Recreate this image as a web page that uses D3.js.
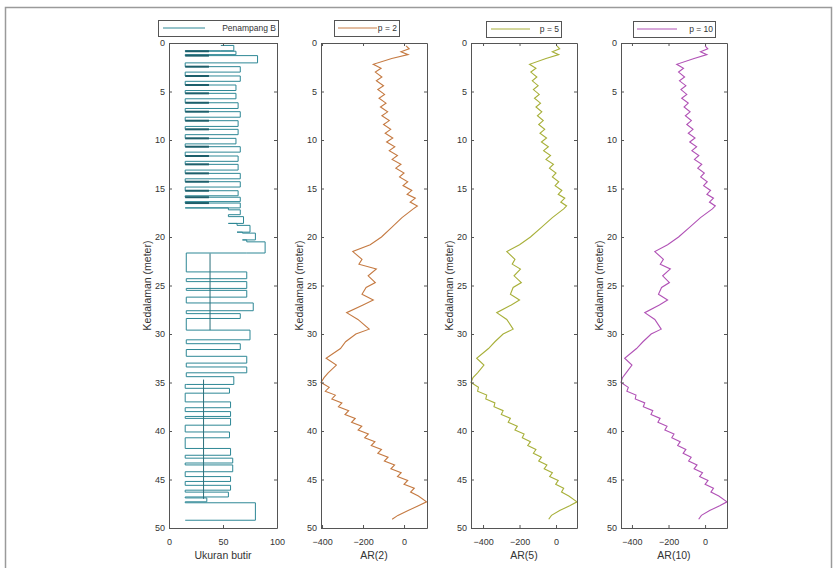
<!DOCTYPE html>
<html>
<head>
<meta charset="utf-8">
<script src="https://cdn.jsdelivr.net/npm/d3@7"></script>
<style>
	body { margin: 0; background: #fff; font-family: "Liberation Sans", Arial, sans-serif; }
	.tick text { font-size: 9px; fill: #333; }
	.tick line, .domain { stroke: #555; }
	.lbl { font-size: 10.5px; fill: #333; }
	.leg { font-size: 8.5px; fill: #333; }
</style>
</head>
<body>
<svg width="837" height="568"></svg>
<script>
// depth axis
var depthTicks = [0, 5, 10, 15, 20, 25, 30, 35, 40, 45, 50];
var sizeTicks = [0, 50, 100];
var arTicks = [-400, -200, 0];

// grain-size log (Penampang B): one excursion per layer
var layerTop = [0.25, 0.85, 1.3, 2.44, 3.4, 4.33, 5.19, 6.16, 7.08, 8.01, 8.9, 9.83, 10.69, 11.65, 12.51, 13.44, 14.3, 15.23, 15.9, 16.5,
	17.2, 17.9, 18.8, 19.6, 20.5,
	23.6, 24.6, 25.5, 26.8, 27.9, 29.6, 31.0, 32.3, 33.4, 34.4,
	35.6, 37.0, 38.0, 38.7, 40.1, 41.8, 42.8, 43.5, 44.7, 45.6, 46.3, 46.9, 47.4];
var layerBottom = [0.8, 1.2, 2.05, 3.0, 3.95, 4.9, 5.75, 6.75, 7.65, 8.6, 9.45, 10.4, 11.25, 12.2, 13.1, 14.0, 14.85, 15.75, 16.35, 17.0,
	17.7, 18.6, 19.5, 20.3, 21.65,
	24.3, 25.3, 26.2, 27.6, 28.4, 30.6, 31.6, 33.0, 34.0, 35.2,
	36.1, 37.6, 38.5, 39.4, 40.7, 42.5, 43.3, 44.2, 45.2, 46.1, 46.8, 47.3, 49.2];
var layerSize = [60, 62, 82, 66, 66, 62, 62, 64, 66, 64, 64, 62, 66, 64, 64, 66, 66, 64, 66, 66,
	66, 69, 75, 80, 89,
	72, 72, 72, 78, 66, 75, 66, 72, 72, 60,
	56, 57, 57, 57, 56, 57, 59, 59, 57, 57, 55, 35, 80];
var layerBase = [48, 15, 15, 15, 15, 15, 15, 15, 15, 15, 15, 15, 15, 15, 15, 15, 15, 15, 15, 15,
	55, 55, 63, 68, 72,
	16, 16, 16, 16, 16, 16, 16, 16, 16, 16,
	15, 15, 15, 15, 15, 15, 15, 15, 15, 15, 15, 15, 15];
var layerMid = [null, 37, 37, 37, 37, 37, 37, 37, 37, 37, 37, 37, 37, 37, 37, 37, 37, 37, 37, 37,
	null, null, null, null, null,
	null, null, null, null, null, null, null, null, null, null,
	null, null, null, null, null, null, null, null, null, null, null, null, null];
var midDepth = [21.7, 29.6, null, 34.7, 47.0];
var midSize = [38, 38, null, 32, 32];

// AR models
var arDepth = [0.3, 0.6, 0.9, 1.2, 1.6,
	2.2, 2.6, 3.0, 3.5, 3.9, 4.4, 4.8, 5.3, 5.7, 6.2,
	6.6, 7.1, 7.5, 8.0, 8.4, 8.9, 9.3, 9.8, 10.2, 10.7,
	11.1, 11.6, 12.0, 12.5, 12.9, 13.4, 13.8, 14.3, 14.7, 15.2,
	15.6, 16.0, 16.4, 16.8, 17.1,
	18.0, 19.0, 20.0, 20.8,
	21.5, 22.3, 22.8, 23.3, 24.0, 24.7, 25.2, 25.9, 26.5, 27.0,
	27.8, 28.5, 29.5, 30.0, 30.8, 31.5, 32.5, 33.2, 34.0, 34.5,
	35.0,
	35.5, 35.9, 36.3, 36.7, 37.1, 37.5, 37.9, 38.3, 38.7, 39.1,
	39.5, 39.9, 40.3, 40.7, 41.1, 41.5, 41.9, 42.3, 42.7, 43.1,
	43.5, 43.9, 44.3, 44.7, 45.1, 45.5, 45.9, 46.3, 46.7,
	47.3, 47.7, 48.2, 48.7, 49.1];
var ar2 = [10, 25, -15, 20, -60,
	-150, -112, -140, -108, -135, -100, -128, -95, -122, -88,
	-115, -80, -108, -72, -100, -65, -92, -55, -85, -45,
	-72, -32, -58, -15, -40, 0, -22, 18, -5, 38,
	15, 55, 30, 65, 45,
	-10, -60, -110, -165,
	-250, -205, -220, -135, -175, -140, -185, -205, -150, -200,
	-280, -225, -170, -235, -285, -310, -380, -330, -370, -390,
	-405,
	-365, -384, -335, -352, -303, -320, -270, -288, -238, -256,
	-206, -224, -174, -192, -142, -160, -110, -128, -78, -96,
	-46, -64, -14, -32, 18, 0, 50, 32, 70,
	110, 70, 20, -30, -58];
var ar5 = [5, 20, -20, 15, -55,
	-145, -110, -138, -105, -130, -98, -124, -92, -118, -85,
	-110, -78, -102, -70, -95, -62, -88, -52, -80, -42,
	-68, -30, -55, -14, -36, 0, -20, 15, -5, 32,
	12, 48, 26, 58, 42,
	-20, -80, -140, -200,
	-270, -225, -240, -195, -230, -190, -235, -250, -200, -245,
	-325, -270, -235, -290, -335, -370, -435, -395, -430, -455,
	-466,
	-425, -430, -380, -385, -335, -340, -290, -300, -250, -262,
	-212, -225, -175, -185, -140, -155, -110, -124, -80, -95,
	-50, -65, -20, -35, 12, -2, 42, 30, 70,
	115, 75, 20, -25, -40];
var ar10 = [0, 15, -25, 10, -60,
	-155, -118, -145, -112, -140, -105, -132, -100, -128, -92,
	-115, -82, -108, -75, -100, -66, -92, -55, -84, -46,
	-72, -34, -58, -18, -40, -4, -24, 12, -8, 30,
	10, 46, 24, 56, 40,
	-25, -85, -145, -205,
	-275, -228, -245, -190, -232, -195, -238, -255, -205, -250,
	-330, -275, -240, -295, -340, -375, -440, -400, -432, -452,
	-460,
	-420, -428, -378, -382, -330, -338, -286, -296, -246, -258,
	-208, -220, -170, -182, -136, -150, -105, -120, -76, -90,
	-44, -60, -14, -30, 16, 0, 46, 32, 75,
	120, 80, 25, -20, -35];

var svg = d3.select("svg");

svg.append("rect")
	.attr("x", 5.5).attr("y", 7.5)
	.attr("width", 826).attr("height", 570)
	.attr("fill", "none").attr("stroke", "#9a9a9a").attr("stroke-width", 1.5);

var y = d3.scaleLinear().domain([0, 50]).range([43, 528]);

var panels = [
	{ left: 169, right: 277, domain: [0, 100], ticks: sizeTicks, label: "Ukuran butir", legend: "Penampang B", color: "#2d8795", box: [158, 20, 120, 16], key: [163, 205] },
	{ left: 321, right: 427, domain: [-405, 112], ticks: arTicks, label: "AR(2)", legend: "p = 2", color: "#c57a42", values: ar2, box: [334, 20, 65, 16], key: [338, 377] },
	{ left: 471, right: 577, domain: [-466, 115], ticks: arTicks, label: "AR(5)", legend: "p = 5", color: "#a8b03a", values: ar5, box: [486, 21, 75, 16], key: [491, 530] },
	{ left: 621, right: 727, domain: [-460, 120], ticks: arTicks, label: "AR(10)", legend: "p = 10", color: "#b152b6", values: ar10, box: [633, 21, 82, 16], key: [637, 677] }
];

panels.forEach(function(p, i) {
	var x = d3.scaleLinear().domain(p.domain).range([p.left, p.right]);
	var g = svg.append("g");

	if (i === 0) {
		// build the log path layer by layer
		var pts = [];
		layerTop.forEach(function(t, k) {
			if (k > 0) pts.push([layerBase[k], layerBottom[k - 1]]);
			pts.push([layerBase[k], t]);
			pts.push([layerSize[k], t]);
			pts.push([layerSize[k], layerBottom[k]]);
			pts.push([layerBase[k], layerBottom[k]]);
		});
		var logLine = d3.line()
			.x(function(d) { return x(d[0]); })
			.y(function(d) { return y(d[1]); });
		g.append("path")
			.attr("d", logLine(pts))
			.attr("fill", "none")
			.attr("stroke", p.color)
			.attr("stroke-width", 1);

		g.selectAll(".mark")
			.data(layerTop.map(function(t, k) { return [layerBase[k], layerMid[k], t]; })
				.filter(function(d) { return d[1] !== null; }))
			.enter().append("line")
			.attr("x1", function(d) { return x(d[0]); })
			.attr("x2", function(d) { return x(d[1]); })
			.attr("y1", function(d) { return y(d[2]); })
			.attr("y2", function(d) { return y(d[2]); })
			.attr("stroke", "#1d5f6b")
			.attr("stroke-width", 2);

		var midLine = d3.line()
			.defined(function(d, k) { return midDepth[k] !== null; })
			.x(function(d, k) { return x(midSize[k]); })
			.y(function(d, k) { return y(midDepth[k]); });
		g.append("path")
			.attr("d", midLine(midDepth))
			.attr("fill", "none")
			.attr("stroke", "#2a6f7a")
			.attr("stroke-width", 1);
	} else {
		var arLine = d3.line()
			.x(function(d) { return x(d); })
			.y(function(d, k) { return y(arDepth[k]); });
		g.append("path")
			.attr("d", arLine(p.values))
			.attr("fill", "none")
			.attr("stroke", p.color)
			.attr("stroke-width", 1.1);
	}

	// box with inward ticks on all sides
	g.append("g")
		.attr("transform", "translate(" + p.left + ",0)")
		.call(d3.axisLeft(y).tickValues(depthTicks).tickSizeInner(-3).tickSizeOuter(0).tickPadding(4));
	g.append("g")
		.attr("transform", "translate(" + p.right + ",0)")
		.call(d3.axisRight(y).tickValues(depthTicks).tickSizeInner(-3).tickSizeOuter(0).tickFormat(""));
	g.append("g")
		.attr("transform", "translate(0," + y(50) + ")")
		.call(d3.axisBottom(x).tickValues(p.ticks).tickSizeInner(-3).tickSizeOuter(0).tickPadding(11));
	g.append("g")
		.attr("transform", "translate(0," + y(0) + ")")
		.call(d3.axisTop(x).tickValues(p.ticks).tickSizeInner(-3).tickSizeOuter(0).tickFormat(""));
	g.selectAll(".tick text").attr("fill", "#333");

	g.append("text")
		.attr("class", "lbl")
		.attr("text-anchor", "middle")
		.attr("transform", "translate(" + (p.left - 22) + "," + y(25) + ") rotate(-90)")
		.attr("dy", "0.35em")
		.text("Kedalaman (meter)");
	g.append("text")
		.attr("class", "lbl")
		.attr("text-anchor", "middle")
		.attr("x", (p.left + p.right) / 2)
		.attr("y", 559)
		.text(p.label);

	// legend
	g.append("rect")
		.attr("x", p.box[0] + 0.5).attr("y", p.box[1] + 0.5)
		.attr("width", p.box[2]).attr("height", p.box[3])
		.attr("fill", "#fff").attr("stroke", "#555");
	g.append("line")
		.attr("x1", p.key[0]).attr("x2", p.key[1])
		.attr("y1", p.box[1] + p.box[3] / 2).attr("y2", p.box[1] + p.box[3] / 2)
		.attr("stroke", p.color);
	g.append("text")
		.attr("class", "leg")
		.attr("text-anchor", "end")
		.attr("x", p.box[0] + p.box[2] - 2)
		.attr("y", p.box[1] + p.box[3] / 2)
		.attr("dy", "0.35em")
		.text(p.legend);
});
</script>
</body>
</html>
